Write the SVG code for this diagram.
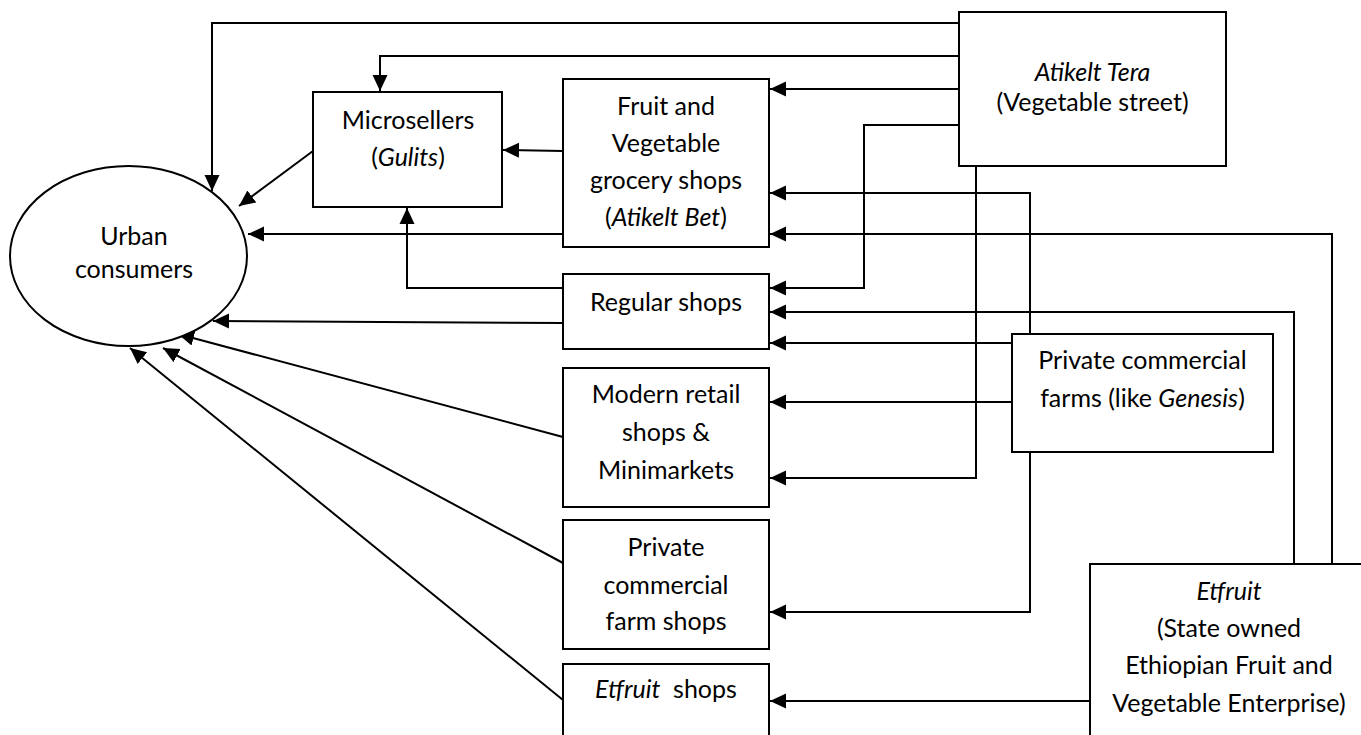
<svg xmlns="http://www.w3.org/2000/svg" width="1361" height="735" viewBox="0 0 1361 735">
<style>
.box{fill:#fff;stroke:#000;stroke-width:2}
.t{font-family:Lato,"Liberation Sans",sans-serif;font-size:25px;fill:#000;text-anchor:middle}
.i{font-style:italic}
.c{fill:none;stroke:#000;stroke-width:2;marker-end:url(#ah)}
</style>
<defs>
<marker id="ah" markerUnits="userSpaceOnUse" markerWidth="17" markerHeight="17" viewBox="0 0 17 17" refX="16" refY="8.5" orient="auto">
<path d="M0,1 L16,8.5 L0,16 Z" fill="#000"/>
</marker>
</defs>
<rect width="1361" height="735" fill="#fff"/>
<g id="connectors">
<path class="c" d="M959,23 H212 V191"/>
<path class="c" d="M959,56 H380 V91"/>
<path class="c" d="M959,89 H770"/>
<path class="c" d="M959,125 H864 V288 H770"/>
<path class="c" d="M976,166 V478 H770"/>
<path class="c" d="M1030,334 V193 H770"/>
<path class="c" d="M1030,452 V612 H770"/>
<path class="c" d="M1332,564 V234 H770"/>
<path class="c" d="M1294,564 V312 H770"/>
<path class="c" d="M1012,343 H770"/>
<path class="c" d="M1012,402 H770"/>
<path class="c" d="M1090,701 H770"/>
<path class="c" d="M313,151 L239,206"/>
<path class="c" d="M563,151 L503,150"/>
<path class="c" d="M563,234 H248"/>
<path class="c" d="M563,288 H407 V208"/>
<path class="c" d="M563,323 L213,321"/>
<path class="c" d="M563,437 L178,334"/>
<path class="c" d="M563,563 L163,348"/>
<path class="c" d="M563,700 L130,348"/>
</g>
<g id="urban">
<ellipse class="box" cx="128.5" cy="256" rx="118.5" ry="90"/>
<text class="t" x="134" y="245">Urban</text>
<text class="t" x="134" y="278">consumers</text>
</g>
<g id="microsellers">
<rect class="box" x="313" y="92" width="189" height="115"/>
<text class="t" x="408" y="129">Microsellers</text>
<text class="t" x="408" y="166">(<tspan class="i">Gulits</tspan>)</text>
</g>
<g id="fruitveg">
<rect class="box" x="563" y="79" width="206" height="168"/>
<text class="t" x="666" y="115">Fruit and</text>
<text class="t" x="666" y="152">Vegetable</text>
<text class="t" x="666" y="189">grocery shops</text>
<text class="t" x="666" y="226">(<tspan class="i">Atikelt Bet</tspan>)</text>
</g>
<g id="regular">
<rect class="box" x="563" y="274" width="206" height="75"/>
<text class="t" x="666" y="311">Regular shops</text>
</g>
<g id="modern">
<rect class="box" x="563" y="368" width="206" height="139"/>
<text class="t" x="666" y="403">Modern retail</text>
<text class="t" x="666" y="441">shops &amp;</text>
<text class="t" x="666" y="479">Minimarkets</text>
</g>
<g id="farmshops">
<rect class="box" x="563" y="520" width="206" height="129"/>
<text class="t" x="666" y="556">Private</text>
<text class="t" x="666" y="594">commercial</text>
<text class="t" x="666" y="630">farm shops</text>
</g>
<g id="etfruitshops">
<rect class="box" x="563" y="664" width="206" height="90"/>
<text class="t" x="666" y="698" style="white-space:pre"><tspan class="i">Etfruit</tspan>  shops</text>
</g>
<g id="atikelttera">
<rect class="box" x="959" y="12" width="267" height="154"/>
<text class="t i" x="1092.5" y="81">Atikelt Tera</text>
<text class="t" x="1092.5" y="111">(Vegetable street)</text>
</g>
<g id="privatefarms">
<rect class="box" x="1012" y="334" width="261" height="118"/>
<text class="t" x="1142.5" y="369">Private commercial</text>
<text class="t" x="1142.5" y="407">farms (like <tspan class="i">Genesis</tspan>)</text>
</g>
<g id="etfruit">
<rect class="box" x="1090" y="564" width="290" height="200"/>
<text class="t i" x="1229" y="600">Etfruit</text>
<text class="t" x="1229" y="637">(State owned</text>
<text class="t" x="1229" y="674">Ethiopian Fruit and</text>
<text class="t" x="1229" y="712">Vegetable Enterprise)</text>
</g>
</svg>
